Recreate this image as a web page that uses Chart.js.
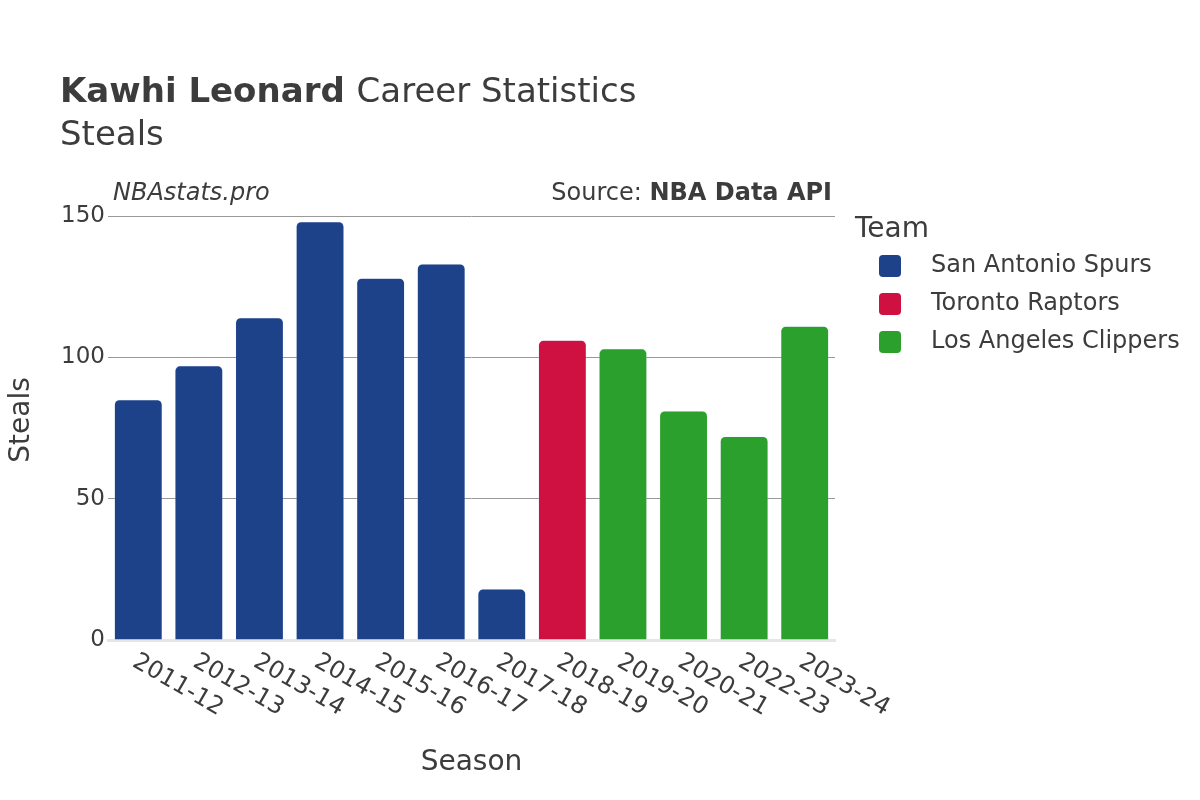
<!DOCTYPE html>
<html lang="en">
<head>
<meta charset="UTF-8">
<title>Kawhi Leonard Steals</title>
<script src="https://cdn.jsdelivr.net/npm/chart.js@4/dist/chart.umd.min.js"></script>
<style>
  html, body { margin: 0; padding: 0; background: #fff; }
  #wrap { width: 1200px; height: 800px; position: relative; }
</style>
</head>
<body>
<div id="wrap"><canvas id="chart" width="1200" height="800"></canvas></div>
<script>
// data
var seasons = ["2011-12", "2012-13", "2013-14", "2014-15", "2015-16", "2016-17",
               "2017-18", "2018-19", "2019-20", "2020-21", "2022-23", "2023-24"];
var spurs    = [85, 97, 114, 148, 128, 133, 18, null, null, null, null, null];
var raptors  = [null, null, null, null, null, null, null, 106, null, null, null, null];
var clippers = [null, null, null, null, null, null, null, null, 103, 81, 72, 111];
var teams  = ["San Antonio Spurs", "Toronto Raptors", "Los Angeles Clippers"];
var colors = ["#1d428a", "#ce1141", "#2ca02c"];
var yTicks = [0, 50, 100, 150];

var FONT = "'DejaVu Sans', 'Open Sans', sans-serif";
var TXT = "#3c3c3c";

function ds(i, vals) {
  return {
    label: teams[i],
    data: vals,
    backgroundColor: colors[i],
    borderColor: "rgba(200,220,255,0.6)",
    borderWidth: 0.5,
    borderRadius: { topLeft: 5, topRight: 5 },
    borderSkipped: "bottom",
    barPercentage: 0.79,
    categoryPercentage: 1.0
  };
}

// text + legend drawn on top of the chart
var extras = {
  id: "extras",
  afterDraw: function (chart) {
    var c = chart.ctx, x = chart.scales.x, a = chart.chartArea;
    c.save();
    c.fillStyle = TXT;
    c.textBaseline = "alphabetic";

    // title
    c.textAlign = "left";
    c.font = "bold 34px " + FONT;
    c.fillText("Kawhi Leonard", 60, 102);
    var w = c.measureText("Kawhi Leonard ").width;
    c.font = "34px " + FONT;
    c.fillText("Career Statistics", 60 + w, 102);
    c.fillText("Steals", 60, 145);

    // annotations
    c.font = "italic 24px " + FONT;
    c.fillText("NBAstats.pro", 113, 200);
    c.textAlign = "right";
    c.font = "bold 24px " + FONT;
    c.fillText("NBA Data API", 832, 200);
    var bw = c.measureText("NBA Data API").width;
    c.font = "24px " + FONT;
    c.fillText("Source: ", 832 - bw, 200);

    // x tick labels, rotated 30deg going down-right
    c.font = "24px " + FONT;
    c.textAlign = "left";
    c.textBaseline = "middle";
    for (var i = 0; i < seasons.length; i++) {
      var px = x.getPixelForTick(i);
      c.save();
      c.translate(px - 4, a.bottom + 20);
      c.rotate(Math.PI / 6);
      c.fillText(seasons[i], 0, 0);
      c.restore();
    }

    // axis titles
    c.textAlign = "center";
    c.textBaseline = "alphabetic";
    c.font = "28px " + FONT;
    c.fillText("Season", (a.left + a.right) / 2, 770);
    c.save();
    c.translate(29, 420);
    c.rotate(-Math.PI / 2);
    c.fillText("Steals", 0, 0);
    c.restore();

    // legend
    c.textAlign = "left";
    c.font = "28px " + FONT;
    c.fillText("Team", 855, 237);
    c.font = "24px " + FONT;
    c.textBaseline = "middle";
    for (var k = 0; k < teams.length; k++) {
      var ly = 266 + k * 38;
      c.fillStyle = colors[k];
      c.beginPath();
      c.roundRect(879, ly - 11, 22, 22, 4);
      c.fill();
      c.fillStyle = TXT;
      c.fillText(teams[k], 931, ly);
    }
    c.restore();
  }
};

new Chart(document.getElementById("chart"), {
  type: "bar",
  data: {
    labels: seasons,
    datasets: [ds(0, spurs), ds(1, raptors), ds(2, clippers)]
  },
  options: {
    responsive: false,
    animation: false,
    layout: { padding: { top: 216, left: 0, right: 365, bottom: 0 } },
    plugins: { legend: { display: false }, tooltip: { enabled: false } },
    scales: {
      x: {
        stacked: true,
        grid: { display: false, drawTicks: false },
        border: { display: true, color: "#e6e6e6", width: 3 },
        ticks: { display: false },
        afterFit: function (s) { s.height = 160; }
      },
      y: {
        stacked: false,
        min: 0,
        max: 150,
        afterBuildTicks: function (s) { s.ticks = yTicks.map(function (v) { return { value: v }; }); },
        grid: {
          color: function (ctx) { return ctx.tick && ctx.tick.value === 0 ? "rgba(0,0,0,0)" : "#999"; },
          lineWidth: 1,
          drawTicks: true,
          tickLength: 3,
          tickColor: "rgba(0,0,0,0)"
        },
        border: { display: false },
        ticks: { color: TXT, font: { family: FONT, size: 23 }, padding: 0 },
        afterFit: function (s) { s.width = 108; }
      }
    }
  },
  plugins: [extras]
});
</script>
</body>
</html>
